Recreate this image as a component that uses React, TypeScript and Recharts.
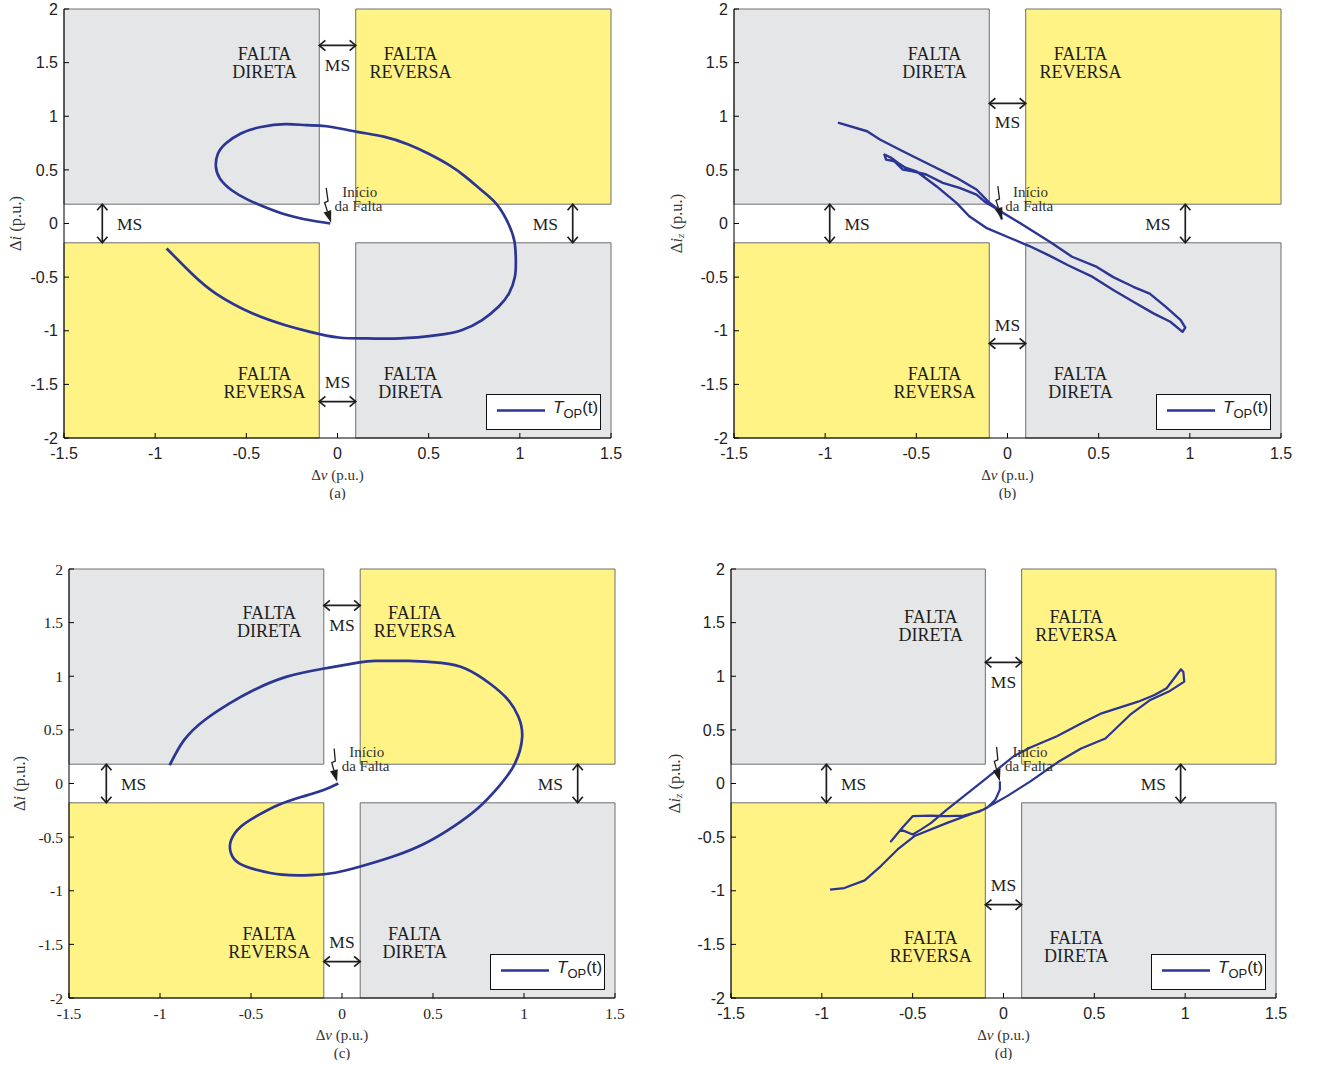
import React from "react";
import {
  LineChart,
  Line,
  XAxis,
  YAxis,
  ReferenceArea,
  ReferenceLine,
  ReferenceDot,
  Legend,
} from "recharts";

const xTicks = [-1.5, -1, -0.5, 0, 0.5, 1, 1.5];
const yTicks = [-2, -1.5, -1, -0.5, 0, 0.5, 1, 1.5, 2];

// half widths of the MS (margin) strips around the origin
const msV = 0.1;
const msI = 0.18;

// (a) Δv x Δi
const dvA = [
  -0.04, -0.15, -0.285, -0.4, -0.49, -0.58, -0.645, -0.667, -0.656, -0.61, -0.53, -0.42, -0.285, -0.17,
  -0.06, 0.108, 0.254, 0.389, 0.5, 0.613, 0.703, 0.79, 0.87, 0.928, 0.969, 0.978, 0.973, 0.94, 0.883,
  0.793, 0.68, 0.546, 0.344, 0.164, 0.007, -0.15, -0.285, -0.465, -0.667, -0.8, -0.937,
];
const diA = [
  0, 0.03, 0.084, 0.155, 0.22, 0.31, 0.42, 0.53, 0.65, 0.75, 0.84, 0.9, 0.926, 0.917, 0.907, 0.855, 0.81,
  0.737, 0.65, 0.544, 0.435, 0.31, 0.186, 0.031, -0.155, -0.342, -0.497, -0.653, -0.777, -0.9, -0.995,
  -1.041, -1.072, -1.072, -1.063, -1.01, -0.948, -0.839, -0.653, -0.466, -0.233,
];

// (b) Δv x Δiz
const dvB = [
  -0.03, -0.053, -0.117, -0.17, -0.263, -0.355, -0.446, -0.52, -0.574, -0.62, -0.666, -0.675, -0.64, -0.6,
  -0.56, -0.5, -0.39, -0.28, -0.21, -0.117, 0.011, 0.12, 0.23, 0.332, 0.467, 0.58, 0.69, 0.803, 0.893,
  0.96, 0.975, 0.95, 0.87, 0.78, 0.69, 0.58, 0.49, 0.354, 0.236, 0.066, -0.026, -0.099, -0.17, -0.28,
  -0.428, -0.574, -0.7, -0.77, -0.93,
];
const diB = [
  0.037, 0.13, 0.193, 0.27, 0.333, 0.379, 0.457, 0.487, 0.503, 0.58, 0.596, 0.643, 0.615, 0.565, 0.52,
  0.487, 0.348, 0.193, 0.068, -0.04, -0.133, -0.21, -0.3, -0.389, -0.498, -0.62, -0.73, -0.84, -0.916,
  -1.01, -0.97, -0.9, -0.78, -0.654, -0.59, -0.5, -0.405, -0.31, -0.175, 0.006, 0.1, 0.193, 0.317, 0.426,
  0.55, 0.674, 0.783, 0.86, 0.94,
];

// (c) Δv x Δi
const dvC = [
  -0.02, -0.105, -0.22, -0.35, -0.46, -0.555, -0.61, -0.61, -0.565, -0.465, -0.33, -0.173, -0.038, 0.096,
  0.276, 0.455, 0.61, 0.745, 0.86, 0.95, 0.99, 0.97, 0.915, 0.814, 0.68, 0.545, 0.366, 0.186, 0.096,
  -0.105, -0.307, -0.487, -0.62, -0.756, -0.868, -0.947,
];
const diC = [
  0, -0.062, -0.124, -0.2, -0.295, -0.4, -0.53, -0.65, -0.745, -0.807, -0.85, -0.854, -0.832, -0.776,
  -0.683, -0.559, -0.404, -0.233, -0.031, 0.186, 0.435, 0.62, 0.776, 0.93, 1.07, 1.124, 1.143, 1.143, 1.13,
  1.07, 0.994, 0.87, 0.745, 0.59, 0.404, 0.17,
];

// (d) Δv x Δiz
const dvD = [
  -0.02, -0.02, -0.044, -0.09, -0.13, -0.218, -0.31, -0.4, -0.5, -0.556, -0.62, -0.565, -0.5, -0.455, -0.4,
  -0.31, -0.218, -0.126, -0.035, 0.056, 0.148, 0.294, 0.427, 0.54, 0.741, 0.831, 0.898, 0.977, 0.99,
  0.995, 0.91, 0.808, 0.696, 0.561, 0.427, 0.3, 0.148, 0.02, -0.11, -0.31, -0.49, -0.583, -0.675, -0.764,
  -0.876, -0.955,
];
const diD = [
  0.02, -0.056, -0.149, -0.227, -0.26, -0.3, -0.305, -0.3, -0.305, -0.41, -0.54, -0.43, -0.475, -0.43,
  -0.37, -0.242, -0.118, 0.006, 0.13, 0.254, 0.335, 0.44, 0.56, 0.654, 0.763, 0.826, 0.888, 1.065, 1.04,
  0.95, 0.857, 0.779, 0.639, 0.42, 0.327, 0.2, 0.02, -0.118, -0.242, -0.367, -0.49, -0.615, -0.77, -0.903,
  -0.975, -0.99,
];

const GRAY = "#e5e6e8";
const YELLOW = "#fff386";
const EDGE = "#6e6e6e";
const CURVE = "#2b3592";
const INK = "#1e1e1e";
const SERIF = "'Liberation Serif', 'DejaVu Serif', serif";
const SANS = "'Liberation Sans', Arial, sans-serif";

// left/top: page position of the chart box, yw: y axis band, pw: plot width
const panels = [
  {
    tag: "a", left: 0, top: 0, yw: 64, pw: 547, dv: dvA, di: diA, iz: false, serifTicks: false, lw: 2.7, smooth: true,
    hArrowY: 1.66, hTextY: 1.48, vArrowX: 1.29, vTextX: 1.14, textY: [1.5, -1.49],
    start: [-0.062, 0.333], tip: [-0.035, 0.007], noteX: 0.026, yTitleX: 15,
  },
  {
    tag: "b", left: 660, top: 0, yw: 74, pw: 547, dv: dvB, di: diB, iz: true, serifTicks: false, lw: 2.4, smooth: false,
    hArrowY: 1.12, hTextY: 0.95, vArrowX: 0.975, vTextX: 0.825, textY: [1.5, -1.49],
    start: [-0.053, 0.348], tip: [-0.029, 0.037], noteX: 0.03, yTitleX: 16,
  },
  {
    tag: "c", left: 0, top: 560, yw: 69, pw: 546, dv: dvC, di: diC, iz: false, serifTicks: true, lw: 2.7, smooth: true,
    hArrowY: 1.66, hTextY: 1.48, vArrowX: 1.295, vTextX: 1.145, textY: [1.51, -1.49],
    start: [-0.043, 0.326], tip: [-0.027, 0.016], noteX: 0.04, yTitleX: 19,
  },
  {
    tag: "d", left: 657, top: 560, yw: 74, pw: 545, dv: dvD, di: diD, iz: true, serifTicks: false, lw: 2.2, smooth: false,
    hArrowY: 1.13, hTextY: 0.95, vArrowX: 0.975, vTextX: 0.825, textY: [1.47, -1.52],
    start: [-0.038, 0.342], tip: [-0.02, 0.021], noteX: 0.05, yTitleX: 17,
  },
];

function DoubleArrow(p: any) {
  const { x1, y1, x2, y2 } = p;
  const a = Math.atan2(y2 - y1, x2 - x1);
  const L = 8;
  const w = 0.7;
  const chev = (x: number, y: number, d: number) =>
    `M${x + L * Math.cos(d + w)},${y + L * Math.sin(d + w)}L${x},${y}L${x + L * Math.cos(d - w)},${y + L * Math.sin(d - w)}`;
  return (
    <g>
      <line x1={x1} y1={y1} x2={x2} y2={y2} stroke={INK} strokeWidth={1.7} />
      <path d={chev(x1, y1, a) + chev(x2, y2, a + Math.PI)} fill="none" stroke={INK} strokeWidth={1.7} />
    </g>
  );
}

// lightning-style arrow pointing at the fault inception
function FaultArrow(p: any) {
  const { x1, y1, x2, y2 } = p;
  const ax = x1 + 0.38 * (x2 - x1);
  const ay = y1 + 0.38 * (y2 - y1);
  const bx = ax - 3.5;
  const by = ay + 1.5;
  const len = Math.hypot(x2 - bx, y2 - by);
  const ux = (x2 - bx) / len;
  const uy = (y2 - by) / len;
  const hx = x2 - ux * 12;
  const hy = y2 - uy * 12;
  return (
    <g>
      <polyline points={`${x1},${y1} ${ax},${ay} ${bx},${by} ${hx},${hy}`} fill="none" stroke={INK} strokeWidth={1.3} />
      <path d={`M${x2},${y2}L${hx - uy * 4},${hy + ux * 4}L${hx + uy * 4},${hy - ux * 4}Z`} fill={INK} />
    </g>
  );
}

const textAt = (lines: string[], size: number, anchor = "middle", gap = 18) => (p: any) => (
  <text x={p.cx} y={p.cy} textAnchor={anchor} fontFamily={SERIF} fontSize={size} fill={INK}>
    {lines.map((s, k) => (
      <tspan key={k} x={p.cx} y={p.cy + (k - (lines.length - 1) / 2) * gap} dominantBaseline="central">
        {s}
      </tspan>
    ))}
  </text>
);

const noteText = (s: string) => (p: any) => (
  <text x={p.cx} y={p.cy} fontFamily={SERIF} fontSize={15} fill="#333">
    {s}
  </text>
);

const XTitle = (tag: string) => (props: any) => {
  const vb = props.viewBox || { x: 64, y: 438, width: 547, height: 62 };
  const cx = vb.x + vb.width / 2;
  return (
    <g>
      <text x={cx} y={vb.y + 42} textAnchor="middle" fontFamily={SERIF} fontSize={15} fill="#333">
        Δ<tspan fontStyle="italic">v</tspan> (p.u.)
      </text>
      <text x={cx} y={vb.y + 59.5} textAnchor="middle" fontFamily={SERIF} fontSize={15} fill="#333">
        ({tag})
      </text>
    </g>
  );
};

const YTitle = (iz: boolean, dx: number) => (props: any) => {
  const vb = props.viewBox || { x: 0, y: 9, width: 64, height: 429 };
  const cx = vb.x + dx;
  const cy = vb.y + vb.height / 2;
  return (
    <text
      x={cx}
      y={cy}
      transform={`rotate(-90 ${cx} ${cy})`}
      textAnchor="middle"
      dominantBaseline="central"
      fontFamily={SERIF}
      fontSize={16.5}
      fill="#333"
    >
      Δ<tspan fontStyle="italic">i</tspan>
      {iz ? (
        <>
          <tspan fontStyle="italic" fontSize={11} dy={4}>z</tspan>
          <tspan dy={-4}> (p.u.)</tspan>
        </>
      ) : (
        <tspan> (p.u.)</tspan>
      )}
    </text>
  );
};

function LegendBox() {
  return (
    <div
      style={{
        width: 115,
        height: 36,
        boxSizing: "border-box",
        border: "1.3px solid #111",
        background: "#fff",
        position: "relative",
        fontFamily: SANS,
        color: "#222",
      }}
    >
      <svg width={60} height={34} style={{ position: "absolute", left: 0, top: 0 }}>
        <line x1={10} x2={58} y1={15.5} y2={15.5} stroke={CURVE} strokeWidth={2.4} />
      </svg>
      <div style={{ position: "absolute", left: 66, top: 3, fontSize: 17, whiteSpace: "nowrap" }}>
        <span style={{ fontStyle: "italic" }}>T</span>
        <span style={{ fontSize: 13, position: "relative", top: 5 }}>OP</span>
        <span>(t)</span>
      </div>
    </div>
  );
}

function Panel({ cfg }: { cfg: (typeof panels)[number] }) {
  const data = cfg.dv.map((v, k) => ({ dv: v, di: cfg.di[k] }));
  const tickFont = cfg.serifTicks
    ? { fontFamily: SERIF, fontSize: 15.5, fill: "#222" }
    : { fontFamily: SANS, fontSize: 16, fill: "#222" };
  const [ty1, ty2] = cfg.textY;
  const width = cfg.yw + cfg.pw + 19;
  return (
    <div style={{ position: "absolute", left: cfg.left, top: cfg.top }}>
      <LineChart width={width} height={500} data={data} margin={{ top: 9, right: 19, left: 0, bottom: 0 }}>
        <ReferenceArea x1={-1.5} x2={-msV} y1={msI} y2={2} fill={GRAY} fillOpacity={1} stroke={EDGE} />
        <ReferenceArea x1={msV} x2={1.5} y1={msI} y2={2} fill={YELLOW} fillOpacity={1} stroke={EDGE} />
        <ReferenceArea x1={-1.5} x2={-msV} y1={-2} y2={-msI} fill={YELLOW} fillOpacity={1} stroke={EDGE} />
        <ReferenceArea x1={msV} x2={1.5} y1={-2} y2={-msI} fill={GRAY} fillOpacity={1} stroke={EDGE} />

        <ReferenceDot x={-0.4} y={ty1} shape={textAt(["FALTA", "DIRETA"], 18)} />
        <ReferenceDot x={0.4} y={ty1} shape={textAt(["FALTA", "REVERSA"], 18)} />
        <ReferenceDot x={-0.4} y={ty2} shape={textAt(["FALTA", "REVERSA"], 18)} />
        <ReferenceDot x={0.4} y={ty2} shape={textAt(["FALTA", "DIRETA"], 18)} />

        <ReferenceLine segment={[{ x: -msV, y: cfg.hArrowY }, { x: msV, y: cfg.hArrowY }]} shape={DoubleArrow} />
        <ReferenceLine segment={[{ x: -msV, y: -cfg.hArrowY }, { x: msV, y: -cfg.hArrowY }]} shape={DoubleArrow} />
        <ReferenceLine segment={[{ x: -cfg.vArrowX, y: -msI }, { x: -cfg.vArrowX, y: msI }]} shape={DoubleArrow} />
        <ReferenceLine segment={[{ x: cfg.vArrowX, y: -msI }, { x: cfg.vArrowX, y: msI }]} shape={DoubleArrow} />
        <ReferenceDot x={0} y={cfg.hTextY} shape={textAt(["MS"], 17.5)} />
        <ReferenceDot x={0} y={-cfg.hTextY} shape={textAt(["MS"], 17.5)} />
        <ReferenceDot x={-cfg.vTextX} y={0} shape={textAt(["MS"], 17.5)} />
        <ReferenceDot x={cfg.vTextX} y={0} shape={textAt(["MS"], 17.5)} />

        <Line
          dataKey="di"
          type={cfg.smooth ? "natural" : "linear"}
          stroke={CURVE}
          strokeWidth={cfg.lw}
          strokeLinejoin="round"
          dot={false}
          isAnimationActive={false}
        />

        <ReferenceLine
          segment={[{ x: cfg.start[0], y: cfg.start[1] }, { x: cfg.tip[0], y: cfg.tip[1] }]}
          shape={FaultArrow}
        />
        <ReferenceDot x={cfg.noteX} y={0.25} shape={noteText("Início")} />
        <ReferenceDot x={cfg.noteX - 0.042} y={0.115} shape={noteText("da Falta")} />

        <XAxis
          dataKey="dv"
          type="number"
          domain={[-1.5, 1.5]}
          ticks={xTicks}
          interval={0}
          allowDataOverflow
          height={62}
          stroke="#000"
          tickSize={-5}
          tickMargin={15}
          tick={tickFont}
          label={XTitle(cfg.tag)}
        />
        <XAxis
          xAxisId="top"
          orientation="top"
          type="number"
          domain={[-1.5, 1.5]}
          ticks={xTicks}
          interval={0}
          allowDataOverflow
          height={0}
          stroke="#000"
          tickSize={-5}
          tick={false}
        />
        <YAxis
          type="number"
          domain={[-2, 2]}
          ticks={yTicks}
          interval={0}
          allowDataOverflow
          width={cfg.yw}
          stroke="#000"
          tickSize={-5}
          tickMargin={11}
          tick={tickFont}
          label={YTitle(cfg.iz, cfg.yTitleX)}
        />
        <YAxis
          yAxisId="right"
          orientation="right"
          type="number"
          domain={[-2, 2]}
          ticks={yTicks}
          interval={0}
          allowDataOverflow
          width={0}
          stroke="#000"
          tickSize={-5}
          tick={false}
        />
        <Legend
          layout="vertical"
          align="center"
          verticalAlign="middle"
          wrapperStyle={{ left: cfg.yw + cfg.pw - 125, top: 394, width: 115, height: 36 }}
          content={() => <LegendBox />}
        />
      </LineChart>
    </div>
  );
}

export default function App() {
  return (
    <div style={{ position: "absolute", left: 0, top: 0, width: 1317, height: 1065, background: "#fff" }}>
      {panels.map((cfg) => (
        <Panel key={cfg.tag} cfg={cfg} />
      ))}
    </div>
  );
}
